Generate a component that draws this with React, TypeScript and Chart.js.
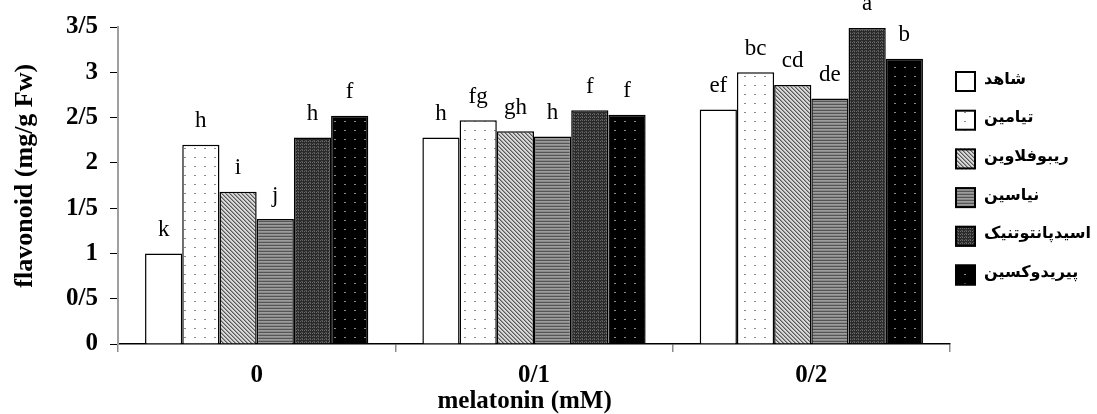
import React, { useEffect, useRef } from 'react';
import { Chart, registerables } from 'chart.js';

Chart.register(...registerables);

// ---- data ----
const categories = ['0', '0/1', '0/2'];
const seriesNames = ['شاهد', 'تیامین', 'ریبوفلاوین', 'نیاسین', 'اسیدپانتوتنیک', 'پیریدوکسین'];
const shahed = [1.0, 2.28, 2.59];
const thiamine = [2.2, 2.47, 3.0];
const riboflavin = [1.68, 2.35, 2.86];
const niacin = [1.38, 2.29, 2.71];
const pantothenic = [2.28, 2.58, 3.49];
const pyridoxine = [2.52, 2.53, 3.15];
const shahedLetters = ['k', 'h', 'ef'];
const thiamineLetters = ['h', 'fg', 'bc'];
const riboflavinLetters = ['i', 'gh', 'cd'];
const niacinLetters = ['j', 'h', 'de'];
const pantothenicLetters = ['h', 'f', 'a'];
const pyridoxineLetters = ['f', 'f', 'b'];
const yMin = 0;
const yMax = 3.5;
const yStep = 0.5;
const xTitle = 'melatonin (mM)';
const yTitle = 'flavonoid (mg/g Fw)';

const SERIF = '"Liberation Serif", "Times New Roman", serif';

function makePattern(w: number, h: number, draw: (g: CanvasRenderingContext2D) => void) {
  const c = document.createElement('canvas');
  c.width = w;
  c.height = h;
  const g = c.getContext('2d') as CanvasRenderingContext2D;
  draw(g);
  return g.createPattern(c, 'repeat') as CanvasPattern;
}

function buildFills() {
  const white = '#ffffff';
  const dots = makePattern(10, 9, (g) => {
    g.fillStyle = '#ffffff';
    g.fillRect(0, 0, 10, 9);
    g.fillStyle = '#8a8a8a';
    g.fillRect(4, 4, 2, 1);
  });
  const diag = makePattern(4, 4, (g) => {
    g.fillStyle = '#d8d8d8';
    g.fillRect(0, 0, 4, 4);
    for (let i = 0; i < 4; i++) {
      g.fillStyle = '#5a5a5a';
      g.fillRect(i, i, 1, 1);
      g.fillStyle = '#9a9a9a';
      g.fillRect((i + 1) % 4, i, 1, 1);
    }
  });
  const horiz = makePattern(1, 3, (g) => {
    g.fillStyle = '#9c9c9c';
    g.fillRect(0, 0, 1, 1);
    g.fillStyle = '#8a8a8a';
    g.fillRect(0, 1, 1, 1);
    g.fillStyle = '#555555';
    g.fillRect(0, 2, 1, 1);
  });
  const darkHatch = makePattern(4, 3, (g) => {
    g.fillStyle = '#2a2a2a';
    g.fillRect(0, 0, 4, 3);
    g.fillStyle = '#6a6a6a';
    g.fillRect(0, 0, 1, 1);
    g.fillRect(2, 0, 1, 1);
    g.fillStyle = '#505050';
    g.fillRect(1, 2, 2, 1);
  });
  const blackDots = makePattern(10, 9, (g) => {
    g.fillStyle = '#000000';
    g.fillRect(0, 0, 10, 9);
    g.fillStyle = '#8a8a8a';
    g.fillRect(4, 4, 2, 1);
  });
  return [white, dots, diag, horiz, darkHatch, blackDots];
}

const barLetters = {
  id: 'barLetters',
  afterDatasetsDraw(chart: any) {
    const ctx = chart.ctx;
    ctx.save();
    ctx.font = `23px ${SERIF}`;
    ctx.fillStyle = '#000';
    ctx.textAlign = 'center';
    ctx.textBaseline = 'alphabetic';
    chart.data.datasets.forEach((ds: any, i: number) => {
      const meta = chart.getDatasetMeta(i);
      meta.data.forEach((el: any, j: number) => {
        const t = ds.letters ? ds.letters[j] : '';
        if (t) ctx.fillText(t, el.x, el.y - 17.5);
      });
    });
    ctx.restore();
  },
};

const sideLegend = {
  id: 'sideLegend',
  afterDraw(chart: any) {
    const ctx = chart.ctx;
    const area = chart.chartArea;
    ctx.save();
    const x0 = area.right + 5;
    const yStart = area.top + 44;
    const gap = 38.7;
    const box = 21;
    chart.data.datasets.forEach((ds: any, i: number) => {
      const y = yStart + i * gap;
      ctx.fillStyle = ds.backgroundColor;
      ctx.fillRect(x0, y, box, box);
      ctx.lineWidth = 2;
      ctx.strokeStyle = '#000';
      ctx.strokeRect(x0 + 1, y + 1, box - 2, box - 2);
      ctx.fillStyle = '#000';
      ctx.font = 'bold 16px "DejaVu Sans", sans-serif';
      ctx.textAlign = 'left';
      ctx.textBaseline = 'middle';
      ctx.fillText(ds.label, x0 + box + 8, y + box / 2 - 2);
    });
    ctx.restore();
  },
};

export default function App() {
  const ref = useRef<HTMLCanvasElement | null>(null);

  useEffect(() => {
    if (!ref.current) return;
    const fills = buildFills();
    const values = [shahed, thiamine, riboflavin, niacin, pantothenic, pyridoxine];
    const letters = [shahedLetters, thiamineLetters, riboflavinLetters, niacinLetters, pantothenicLetters, pyridoxineLetters];
    const chart = new Chart(ref.current, {
      type: 'bar',
      data: {
        labels: categories,
        datasets: values.map((v, i) => ({
          label: seriesNames[i],
          data: v,
          letters: letters[i],
          backgroundColor: fills[i],
          borderColor: '#000',
          borderWidth: 1.5,
          barPercentage: 1,
          categoryPercentage: 0.805,
        })) as any,
      },
      options: {
        animation: false,
        responsive: true,
        maintainAspectRatio: false,
        layout: { padding: { top: 26, right: 147, bottom: 0, left: 0 } },
        plugins: {
          legend: { display: false },
          tooltip: { enabled: false },
        },
        scales: {
          x: {
            type: 'category',
            offset: true,
            grid: {
              offset: true,
              drawOnChartArea: false,
              drawTicks: true,
              tickLength: 8,
              color: '#8c8c8c',
              lineWidth: 1.5,
            },
            border: { color: '#000', width: 1.5 },
            ticks: {
              color: '#000',
              padding: 9,
              font: { family: SERIF, size: 25, weight: 'bold' },
            },
            title: {
              display: true,
              text: xTitle + '   ',
              color: '#000',
              font: { family: SERIF, size: 25, weight: 'bold', lineHeight: 1 },
              padding: { top: 0, bottom: 0 },
            },
            afterFit: (s: any) => {
              s.height = 70;
            },
          } as any,
          y: {
            min: yMin,
            max: yMax,
            grid: {
              drawOnChartArea: false,
              drawTicks: true,
              tickLength: 8,
              color: '#000',
              lineWidth: 1,
            },
            border: { color: '#a0a0a0', width: 2 },
            ticks: {
              stepSize: yStep,
              color: '#000',
              padding: 12,
              font: { family: SERIF, size: 25, weight: 'bold' },
              callback: (v: any) => String(v).replace('.', '/'),
            },
            title: {
              display: true,
              text: '   ' + yTitle,
              color: '#000',
              font: { family: SERIF, size: 26, weight: 'bold', lineHeight: 1 },
              padding: { top: 12, bottom: 0 },
            },
            afterFit: (s: any) => {
              s.width = 118;
            },
          } as any,
        },
      },
      plugins: [barLetters, sideLegend],
    });
    return () => chart.destroy();
  }, []);

  return (
    <div style={{ position: 'absolute', left: 0, top: 0, width: 1097, height: 414, background: '#fff' }}>
      <canvas ref={ref} />
    </div>
  );
}
